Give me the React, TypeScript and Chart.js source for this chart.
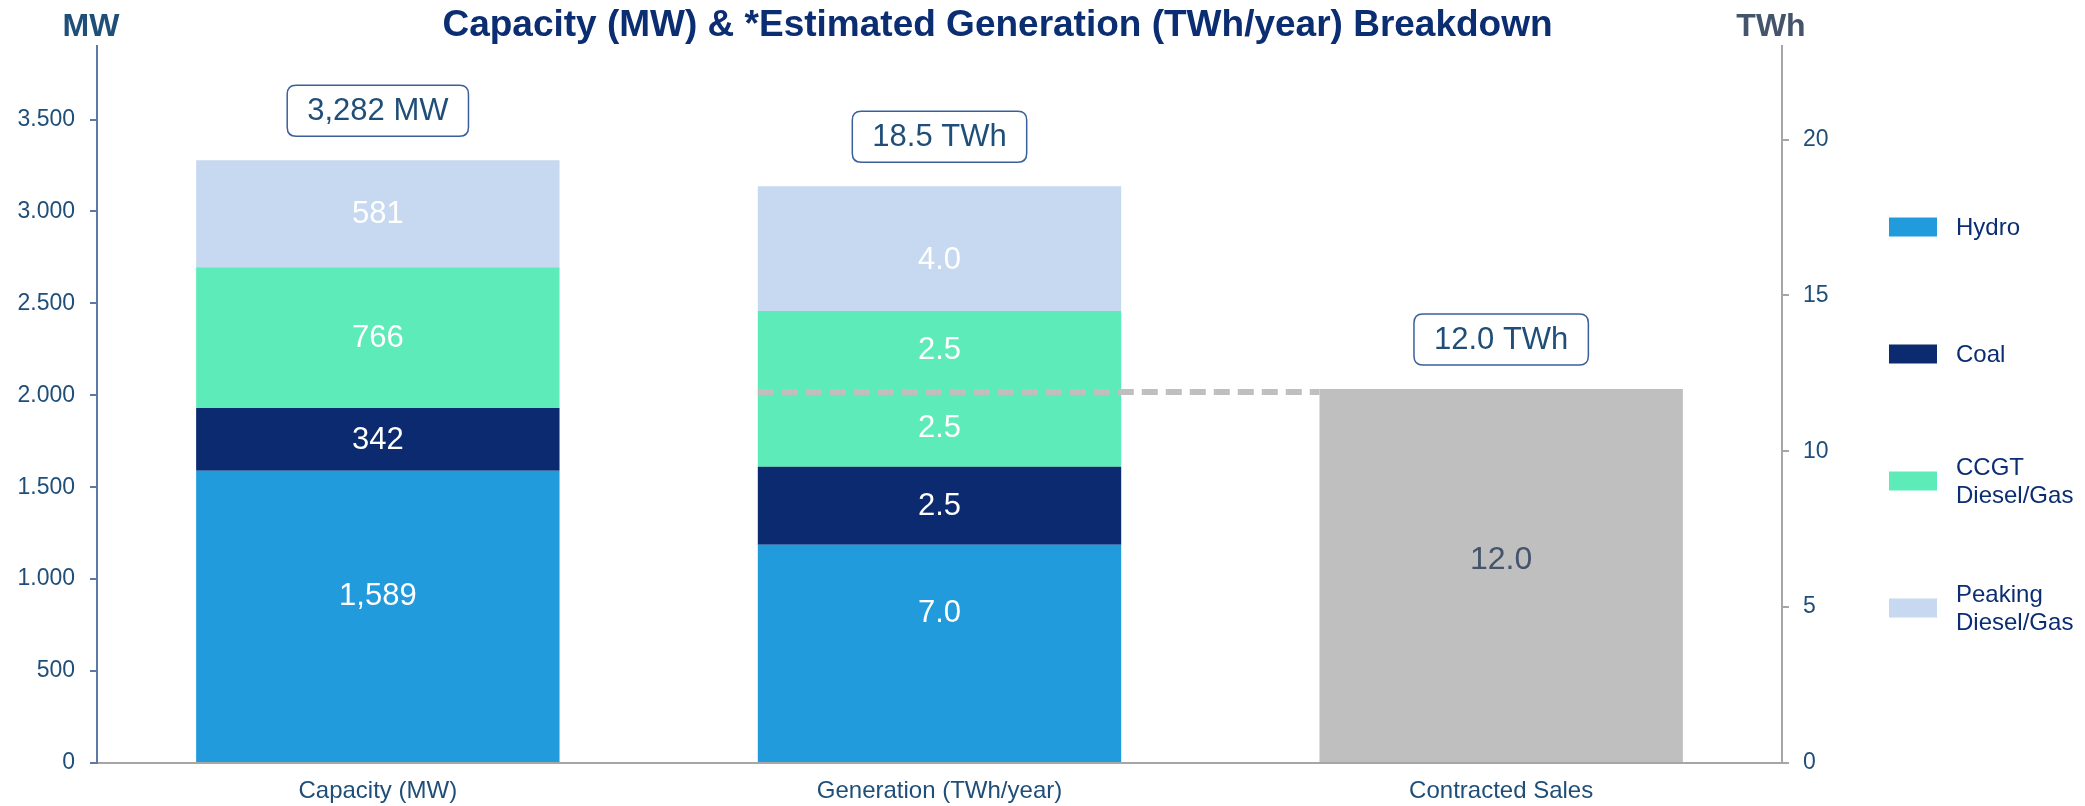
import React, { useEffect, useRef } from 'react';
import { Chart, registerables } from 'chart.js';

Chart.register(...registerables);

// ---------- data ----------
const categories = ['Capacity (MW)', 'Generation (TWh/year)', 'Contracted Sales'];
const sourceNames = ['Hydro', 'Coal', 'CCGT\nDiesel/Gas', 'Peaking\nDiesel/Gas'];
const sourceColors = ['#229BDD', '#0C2A6F', '#5CEBB9', '#C6D9F0'];
const capacityMW = [1589, 342, 766, 581];
const generationTWh = [7.0, 2.5, 2.5, 2.5, 4.0];
const generationSource = [0, 1, 2, 2, 3];
const contractedTWh = [12.0];
const contractedColor = '#BFBFBF';
const totalLabels = ['3,282 MW', '18.5 TWh', '12.0 TWh'];
const mwTicks = [0, 500, 1000, 1500, 2000, 2500, 3000, 3500];
const twhTicks = [0, 5, 10, 15, 20];
const titleText = 'Capacity (MW) & *Estimated Generation (TWh/year) Breakdown';
const leftUnit = 'MW';
const rightUnit = 'TWh';

// label nudges (style only, pixels) per source for capacity / generation columns
const capLabelNudge = [-21, 0, 0, 0];
const genLabelNudge = [-41, 0, 0, 11];
const conLabelNudge = -16;

const FONT = '"Liberation Sans", Arial, sans-serif';
const NAVY = '#0B2D72';
const AXIS_BLUE = '#1F4E79';

const fmtDot = (v: number) => String(v).replace(/\B(?=(\d{3})+(?!\d))/g, '.');
const fmtComma = (v: number) => String(v).replace(/\B(?=(\d{3})+(?!\d))/g, ',');

function roundRect(ctx: CanvasRenderingContext2D, x: number, y: number, w: number, h: number, r: number) {
  ctx.beginPath();
  ctx.moveTo(x + r, y);
  ctx.lineTo(x + w - r, y);
  ctx.quadraticCurveTo(x + w, y, x + w, y + r);
  ctx.lineTo(x + w, y + h - r);
  ctx.quadraticCurveTo(x + w, y + h, x + w - r, y + h);
  ctx.lineTo(x + r, y + h);
  ctx.quadraticCurveTo(x, y + h, x, y + h - r);
  ctx.lineTo(x, y + r);
  ctx.quadraticCurveTo(x, y, x + r, y);
  ctx.closePath();
}

const decorPlugin = {
  id: 'decor',
  afterDatasetsDraw(chart: any) {
    const ctx: CanvasRenderingContext2D = chart.ctx;
    const ca = chart.chartArea;
    const y1 = chart.scales.y1;
    ctx.save();

    // dashed reference line at contracted level
    const metas = chart.data.datasets.map((_: any, i: number) => chart.getDatasetMeta(i));
    const genMeta = metas.find((m: any, i: number) => chart.data.datasets[i].group === 'gen');
    const conMeta = metas.find((m: any, i: number) => chart.data.datasets[i].group === 'con');
    if (genMeta && conMeta) {
      const g = genMeta.data[1];
      const c = conMeta.data[2];
      const yy = y1.getPixelForValue(contractedTWh[0]) + 3;
      ctx.beginPath();
      ctx.setLineDash([16, 8]);
      ctx.lineWidth = 6;
      ctx.strokeStyle = contractedColor;
      ctx.moveTo(g.x - g.width / 2, yy);
      ctx.lineTo(c.x - c.width / 2, yy);
      ctx.stroke();
      ctx.setLineDash([]);
    }

    // segment labels
    ctx.textAlign = 'center';
    ctx.textBaseline = 'middle';
    chart.data.datasets.forEach((ds: any, i: number) => {
      const meta = chart.getDatasetMeta(i);
      meta.data.forEach((el: any, j: number) => {
        const v = ds.data[j];
        if (v === null || v === undefined) return;
        const cy = (el.y + el.base) / 2 + (ds.labelDy || 0);
        const txt = ds.group === 'cap' ? fmtComma(v) : v.toFixed(1);
        ctx.font = ds.group === 'con' ? `32px ${FONT}` : `31px ${FONT}`;
        ctx.fillStyle = ds.group === 'con' ? '#44546A' : '#FFFFFF';
        ctx.fillText(txt, el.x, cy + 1);
      });
    });

    // total boxes
    ctx.font = `31px ${FONT}`;
    categories.forEach((_, j) => {
      let top = Infinity;
      let x = 0;
      chart.data.datasets.forEach((ds: any, i: number) => {
        const v = ds.data[j];
        if (v === null || v === undefined) return;
        const el = chart.getDatasetMeta(i).data[j];
        if (el.y < top) { top = el.y; x = el.x; }
      });
      if (!isFinite(top)) return;
      const txt = totalLabels[j];
      const w = ctx.measureText(txt).width + 40;
      const h = 51;
      const bottom = top - 24;
      roundRect(ctx, x - w / 2, bottom - h, w, h, 9);
      ctx.fillStyle = '#FFFFFF';
      ctx.fill();
      ctx.lineWidth = 1.5;
      ctx.strokeStyle = '#3A5F9A';
      ctx.stroke();
      ctx.fillStyle = AXIS_BLUE;
      ctx.fillText(txt, x, bottom - h / 2 + 1);
    });

    // legend
    const lx = ca.right + 107;
    const startY = ca.top + 181;
    const step = 127;
    ctx.font = `24px ${FONT}`;
    ctx.textAlign = 'left';
    sourceNames.forEach((name, i) => {
      const cy = startY + i * step;
      ctx.fillStyle = sourceColors[i];
      ctx.fillRect(lx, cy - 9.5, 48, 19);
      ctx.fillStyle = NAVY;
      const lines = name.split('\n');
      const lh = 28;
      lines.forEach((ln, k) => {
        const ty = cy + (k - (lines.length - 1) / 2) * lh;
        ctx.fillText(ln, lx + 67, ty + 1);
      });
    });

    // title and axis units
    ctx.textAlign = 'center';
    ctx.textBaseline = 'alphabetic';
    ctx.font = `bold 37px ${FONT}`;
    ctx.fillStyle = NAVY;
    ctx.fillText(titleText, chart.width / 2 - 45, 36);
    ctx.font = `bold 32px ${FONT}`;
    ctx.fillStyle = AXIS_BLUE;
    ctx.fillText(leftUnit, ca.left - 6, 36);
    ctx.fillStyle = '#44546A';
    ctx.fillText(rightUnit, ca.right - 11, 36);

    ctx.restore();
  },
};

export default function App() {
  const ref = useRef<HTMLCanvasElement | null>(null);

  useEffect(() => {
    if (!ref.current) return;
    Chart.defaults.font.family = FONT;

    const capSets = sourceNames.map((n, i) => ({
      label: n,
      group: 'cap',
      labelDy: capLabelNudge[i],
      data: [capacityMW[i], null, null],
      backgroundColor: sourceColors[i],
      yAxisID: 'y',
    }));
    const genSets = generationTWh.map((v, j) => ({
      label: sourceNames[generationSource[j]],
      group: 'gen',
      labelDy: genLabelNudge[generationSource[j]],
      data: [null, v, null],
      backgroundColor: sourceColors[generationSource[j]],
      yAxisID: 'y1',
    }));
    const conSet = {
      label: categories[2],
      group: 'con',
      labelDy: conLabelNudge,
      data: [null, null, contractedTWh[0]],
      backgroundColor: contractedColor,
      yAxisID: 'y1',
    };

    const chart = new Chart(ref.current, {
      type: 'bar',
      data: { labels: categories, datasets: [...capSets, ...genSets, conSet] as any },
      options: {
        animation: false,
        responsive: false,
        layout: { padding: { top: 46, right: 223, left: 0, bottom: 0 } },
        datasets: { bar: { barPercentage: 0.647, categoryPercentage: 1, borderWidth: 0 } },
        plugins: { legend: { display: false }, title: { display: false }, tooltip: { enabled: false } },
        scales: {
          x: {
            stacked: true,
            grid: { display: false, drawTicks: false },
            border: { color: '#A6A6A6', width: 2 },
            ticks: { color: AXIS_BLUE, font: { size: 24, family: FONT }, padding: 14 },
            afterFit: (s: any) => { s.height = 43; },
          },
          y: {
            position: 'left',
            stacked: true,
            min: 0,
            max: 3900,
            ticks: {
              stepSize: 500,
              color: AXIS_BLUE,
              font: { size: 23, family: FONT },
              padding: 15,
              callback: (v: any) => fmtDot(Number(v)),
            },
            afterBuildTicks: (s: any) => { s.ticks = mwTicks.map((v) => ({ value: v })); },
            grid: { drawOnChartArea: false, tickLength: 7, color: '#5B7BA6', lineWidth: 2 },
            border: { color: '#5B7BA6', width: 2 },
            afterFit: (s: any) => { s.width = 97; },
          },
          y1: {
            position: 'right',
            stacked: true,
            min: 0,
            max: 23,
            ticks: {
              stepSize: 5,
              color: AXIS_BLUE,
              font: { size: 23, family: FONT },
              padding: 14,
            },
            afterBuildTicks: (s: any) => { s.ticks = twhTicks.map((v) => ({ value: v })); },
            grid: { drawOnChartArea: false, tickLength: 7, color: '#A6A6A6', lineWidth: 2 },
            border: { color: '#A6A6A6', width: 2 },
            afterFit: (s: any) => { s.width = 80; },
          },
        },
      } as any,
      plugins: [decorPlugin],
    });
    return () => chart.destroy();
  }, []);

  return (
    <div style={{ position: 'absolute', left: 0, top: 0, width: 2085, height: 806, background: '#FFFFFF' }}>
      <canvas ref={ref} width={2085} height={806} style={{ display: 'block', width: 2085, height: 806 }} />
    </div>
  );
}
